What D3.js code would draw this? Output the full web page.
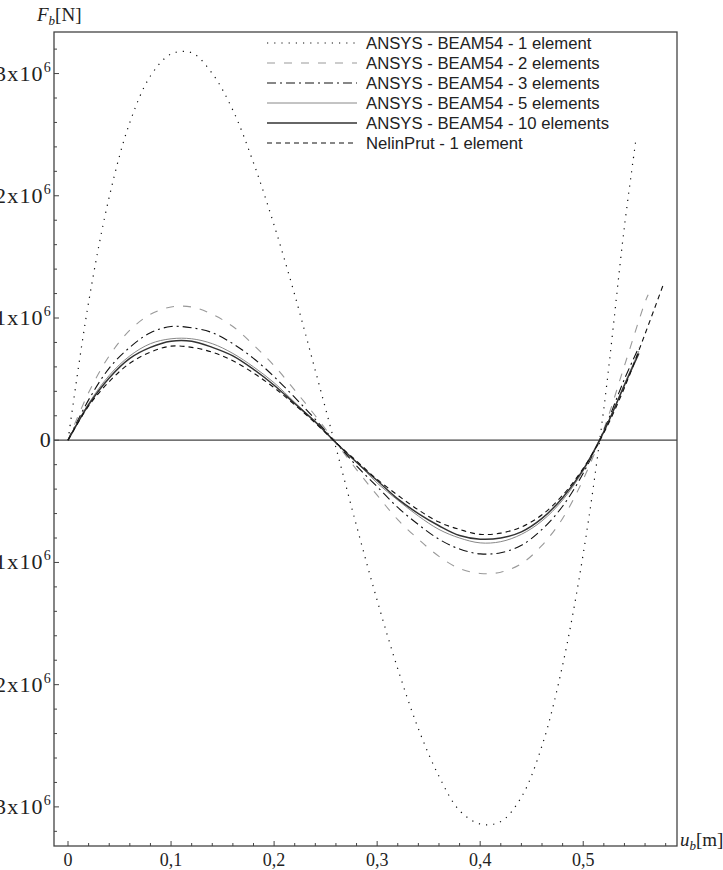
<!doctype html>
<html>
  <head>
    <script src="https://cdnjs.cloudflare.com/ajax/libs/d3/7.8.5/d3.min.js"></script>
    <style>
      body { margin: 0; background: #fff; }
      .frame { fill: none; stroke: #444; stroke-width: 1.3; }
      .tick-label { font-family: "Liberation Serif", serif; font-size: 18px; fill: #222; }
      .ytick-label { font-family: "Liberation Serif", serif; font-size: 22px; letter-spacing: 1.2px; fill: #222; }
      .legend text { font-family: "Liberation Sans", sans-serif; font-size: 16.7px; fill: #222; }
      path.curve { fill: none; }
    </style>
  </head>
  <body>
    <div id="chart"></div>
    <script>
      // u_b [m] grid shared by all series
      var uGrid = [0, 0.02, 0.04, 0.06, 0.08, 0.10, 0.12, 0.14, 0.16, 0.18, 0.20, 0.22, 0.24, 0.26,
                   0.28, 0.30, 0.32, 0.34, 0.36, 0.38, 0.40, 0.42, 0.44, 0.46, 0.48, 0.50, 0.52, 0.54];

      // F_b values in 1e6 N
      var beam1  = [0, 1.13, 1.99, 2.60, 2.98, 3.16, 3.17, 3.00, 2.70, 2.27, 1.76, 1.19, 0.57, -0.06,
                    -0.70, -1.31, -1.87, -2.36, -2.75, -3.03, -3.14, -3.12, -2.92, -2.50, -1.84, -0.93, 0.26, 1.75];
      var beam2  = [0, 0.39, 0.69, 0.90, 1.03, 1.09, 1.09, 1.03, 0.93, 0.78, 0.61, 0.41, 0.20, -0.02,
                    -0.24, -0.45, -0.65, -0.81, -0.95, -1.05, -1.09, -1.08, -1.01, -0.86, -0.64, -0.32, 0.09, 0.61];
      var beam3  = [0, 0.33, 0.59, 0.76, 0.88, 0.93, 0.92, 0.88, 0.79, 0.67, 0.52, 0.35, 0.17, -0.02,
                    -0.21, -0.38, -0.55, -0.69, -0.81, -0.89, -0.93, -0.92, -0.86, -0.73, -0.54, -0.27, 0.08, 0.50];
      var beam5  = [0, 0.30, 0.53, 0.69, 0.79, 0.83, 0.83, 0.79, 0.71, 0.60, 0.47, 0.31, 0.15, -0.02,
                    -0.18, -0.35, -0.49, -0.62, -0.73, -0.80, -0.84, -0.83, -0.77, -0.66, -0.49, -0.25, 0.07, 0.46];
      var beam10 = [0, 0.29, 0.51, 0.67, 0.76, 0.81, 0.81, 0.76, 0.69, 0.58, 0.45, 0.30, 0.15, -0.02,
                    -0.18, -0.33, -0.48, -0.60, -0.70, -0.78, -0.81, -0.80, -0.75, -0.64, -0.47, -0.24, 0.07, 0.45];
      var nelin  = [0, 0.28, 0.48, 0.63, 0.72, 0.77, 0.76, 0.72, 0.65, 0.55, 0.43, 0.29, 0.14, -0.02,
                    -0.17, -0.32, -0.45, -0.57, -0.67, -0.73, -0.77, -0.76, -0.71, -0.61, -0.45, -0.23, 0.06, 0.43];

      // last points past the grid: [u, F]
      var beam1Tail  = [[0.551, 2.45]];
      var beam2Tail  = [[0.56, 1.13], [0.563, 1.19]];
      var beam3Tail  = [[0.554, 0.76]];
      var beam5Tail  = [[0.554, 0.73]];
      var beam10Tail = [[0.554, 0.71]];
      var nelinTail  = [[0.56, 0.87], [0.578, 1.28]];

      var legendLabels = ["ANSYS - BEAM54 - 1 element", "ANSYS - BEAM54 - 2 elements",
                          "ANSYS - BEAM54 - 3 elements", "ANSYS - BEAM54 - 5 elements",
                          "ANSYS - BEAM54 - 10 elements", "NelinPrut - 1 element"];
      var xTickValues = [0, 0.1, 0.2, 0.3, 0.4, 0.5];
      var yTickValues = [-3, -2, -1, 0, 1, 2, 3];

      var series = [
        {vals: beam1,  tail: beam1Tail,  color: "#111", width: 1.2, dash: "1.2,6"},
        {vals: beam2,  tail: beam2Tail,  color: "#999", width: 1.1, dash: "8,9"},
        {vals: beam3,  tail: beam3Tail,  color: "#111", width: 1.1, dash: "9,4,2,4"},
        {vals: beam5,  tail: beam5Tail,  color: "#888", width: 1.0, dash: null},
        {vals: beam10, tail: beam10Tail, color: "#333", width: 1.5, dash: null},
        {vals: nelin,  tail: nelinTail,  color: "#111", width: 1.1, dash: "5,4"}
      ];

      var W = 723, H = 870;
      var mLeft = 54, mRight = 677, mTop = 32, mBottom = 846;

      var svg = d3.select("#chart").append("svg")
          .attr("width", W)
          .attr("height", H);

      var x = d3.scaleLinear().domain([-0.0136, 0.591]).range([mLeft, mRight]);
      var y = d3.scaleLinear().domain([-3.32, 3.34]).range([mBottom, mTop]);

      // frame
      svg.append("rect")
          .attr("class", "frame")
          .attr("x", mLeft).attr("y", mTop)
          .attr("width", mRight - mLeft).attr("height", mBottom - mTop);

      // zero line
      svg.append("line")
          .attr("x1", mLeft).attr("x2", mRight)
          .attr("y1", y(0)).attr("y2", y(0))
          .attr("stroke", "#444").attr("stroke-width", 1.3);

      // x ticks (inside the frame, pointing up)
      var xMinor = d3.range(0, 0.59, 0.02);
      svg.append("g").selectAll("line")
        .data(xMinor)
        .enter().append("line")
          .attr("x1", d => x(d)).attr("x2", d => x(d))
          .attr("y1", mBottom)
          .attr("y2", (d, i) => mBottom - (i % 5 === 0 ? 5 : 3))
          .attr("stroke", "#444").attr("stroke-width", 1);

      svg.append("g").selectAll("text")
        .data(xTickValues)
        .enter().append("text")
          .attr("class", "tick-label")
          .attr("x", d => x(d))
          .attr("y", 866)
          .attr("text-anchor", "middle")
          .text(d => d === 0 ? "0" : d3.format(".1f")(d).replace(".", ","));

      // y ticks
      var yMinor = d3.range(-3.2, 3.3, 0.2);
      svg.append("g").selectAll("line")
        .data(yMinor)
        .enter().append("line")
          .attr("x1", mLeft)
          .attr("x2", d => mLeft + (Math.abs(Math.round(d * 5)) % 5 === 0 ? 5 : 3))
          .attr("y1", d => y(d)).attr("y2", d => y(d))
          .attr("stroke", "#444").attr("stroke-width", 1);

      // labels run past the left edge, as in the original
      var yLab = svg.append("g").selectAll("text")
        .data(yTickValues)
        .enter().append("text")
          .attr("class", "ytick-label")
          .attr("x", 52)
          .attr("y", d => y(d) + 7)
          .attr("text-anchor", "end");
      yLab.each(function(d) {
        var t = d3.select(this);
        if (d === 0) { t.text("0"); return; }
        t.append("tspan").text((d < 0 ? "\u2212" : "") + Math.abs(d) + "x10");
        t.append("tspan").attr("dy", -9).attr("font-size", 14).text("6");
      });

      // axis titles
      var fl = svg.append("text")
          .attr("x", 37).attr("y", 21)
          .attr("font-family", "Liberation Serif, serif").attr("font-size", 19).attr("fill", "#222");
      fl.append("tspan").attr("font-style", "italic").text("F");
      fl.append("tspan").attr("font-style", "italic").attr("font-size", 13).attr("dy", 4).text("b");
      fl.append("tspan").attr("dy", -4).text("[N]");

      var ul = svg.append("text")
          .attr("x", 680).attr("y", 846)
          .attr("font-family", "Liberation Serif, serif").attr("font-size", 19).attr("fill", "#222");
      ul.append("tspan").attr("font-style", "italic").text("u");
      ul.append("tspan").attr("font-style", "italic").attr("font-size", 13).attr("dy", 4).text("b");
      ul.append("tspan").attr("dy", -4).text("[m]");

      // curves
      var line = d3.line()
          .x(d => x(d[0]))
          .y(d => y(d[1]))
          .curve(d3.curveCatmullRom);

      svg.append("g").selectAll("path")
        .data(series)
        .enter().append("path")
          .attr("class", "curve")
          .attr("d", s => line(uGrid.map((u, i) => [u, s.vals[i]]).concat(s.tail)))
          .attr("stroke", s => s.color)
          .attr("stroke-width", s => s.width)
          .attr("stroke-dasharray", s => s.dash);

      // legend
      var lg = svg.append("g").attr("class", "legend");
      var rows = lg.selectAll("g")
        .data(series)
        .enter().append("g")
          .attr("transform", (d, i) => "translate(0," + (43 + i * 20) + ")");
      rows.append("line")
          .attr("x1", 267).attr("x2", 357)
          .attr("stroke", s => s.color)
          .attr("stroke-width", s => s.width)
          .attr("stroke-dasharray", s => s.dash);
      rows.append("text")
          .attr("x", 366).attr("y", 6)
          .text((d, i) => legendLabels[i]);
    </script>
  </body>
</html>
